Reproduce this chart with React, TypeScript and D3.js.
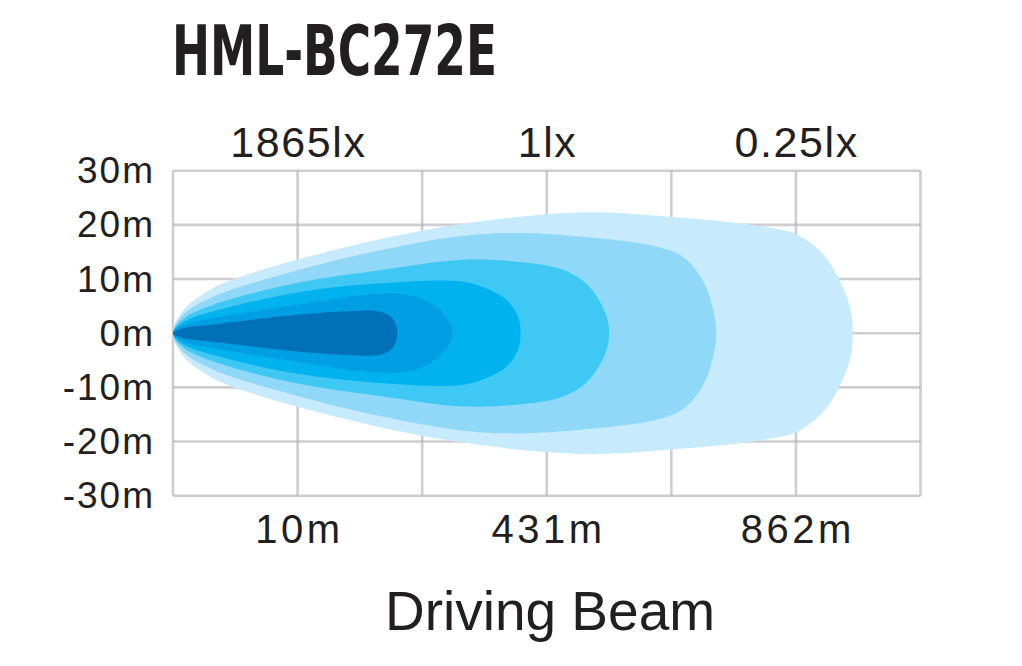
import { curveCatmullRomClosed, line, range, scaleLinear } from "d3";

// distance axis is drawn in grid steps (0..6); labels sit on steps 1, 3, 5
const gridSteps = range(0, 7);
const distanceTicks = [1, 3, 5];
const distanceLabels = ["10m", "431m", "862m"];
const luxLabels = ["1865lx", "1lx", "0.25lx"];
const widthTicks = [30, 20, 10, 0, -10, -20, -30];

// upper half of each isolux contour: [grid step, metres]; lower half is mirrored
const contour1: [number, number][] = [
  [0, 0], [0.08, 4.2], [0.32, 8.3], [0.62, 11.0], [1.0, 13.6], [1.65, 17.3], [2.3, 20.1],
  [3.02, 22.0], [3.47, 22.3], [4.09, 21.3], [4.55, 20.3], [4.81, 19.4], [5.0, 18.3],
  [5.21, 14.8], [5.35, 9.8], [5.44, 4.3], [5.455, 0],
];
const contour2: [number, number][] = [
  [0, 0], [0.08, 3.4], [0.32, 6.7], [1.0, 11.6], [1.66, 15.3], [2.3, 17.9], [2.76, 18.5],
  [3.29, 17.8], [3.88, 16.0], [4.09, 14.1], [4.25, 9.8], [4.33, 4.9], [4.36, 0],
];
const contour3: [number, number][] = [
  [0, 0], [0.08, 2.6], [0.32, 5.2], [1.0, 9.3], [1.66, 11.6], [2.3, 13.5], [2.76, 13.2],
  [3.13, 11.7], [3.34, 8.6], [3.48, 3.1], [3.5, 0],
];
const contour4: [number, number][] = [
  [0, 0], [0.08, 2.0], [0.32, 4.0], [1.0, 7.5], [1.66, 9.2], [2.3, 9.6], [2.49, 8.5],
  [2.68, 6.1], [2.77, 3.0], [2.79, 0],
];
const contour5: [number, number][] = [
  [0, 0], [0.08, 1.5], [0.32, 2.8], [1.0, 5.3], [1.5, 7.0], [1.8, 7.3], [1.98, 6.5],
  [2.14, 4.3], [2.22, 2.0], [2.245, 0],
];
const contour6: [number, number][] = [
  [0, 0], [0.08, 0.9], [0.32, 1.6], [1.0, 3.4], [1.45, 4.1], [1.66, 4.0], [1.75, 3.0],
  [1.79, 1.5], [1.8, 0],
];
const contours = [contour1, contour2, contour3, contour4, contour5, contour6];
const contourColors = ["#c7eafc", "#8fd8f7", "#40c8f4", "#00b3ef", "#009fe3", "#0071b9"];

const ink = "#231f20";

export default function App() {
  const width = 1022;
  const height = 666;
  const x = scaleLinear().domain([0, 6]).range([173, 920.5]);
  const y = scaleLinear().domain([-30, 30]).range([495.7, 170.7]);

  const outline = line<[number, number]>()
    .x((d) => x(d[0]))
    .y((d) => y(d[1]))
    .curve(curveCatmullRomClosed.alpha(0.5));

  const closedShape = (upper: [number, number][]) => {
    const lower = upper
      .slice(1, -1)
      .reverse()
      .map(([u, m]) => [u, -m] as [number, number]);
    return outline([...upper, ...lower]) ?? "";
  };

  return (
    <div style={{ position: "absolute", left: 0, top: 0 }}>
      <svg width={width} height={height} viewBox={`0 0 ${width} ${height}`} style={{ display: "block", background: "#fff" }}>
        <text
          x={172}
          y={75}
          fontFamily="'DejaVu Sans Condensed', 'DejaVu Sans', sans-serif"
          fontWeight="bold"
          fontSize={70}
          textLength={325}
          lengthAdjust="spacingAndGlyphs"
          fill={ink}
        >
          HML-BC272E
        </text>

        <g stroke="#b4b4b4" strokeOpacity={0.65} strokeWidth={2.6}>
          {widthTicks.map((t) => (
            <line key={`h${t}`} x1={x(0)} x2={x(6)} y1={y(t)} y2={y(t)} />
          ))}
          {gridSteps.map((s) => (
            <line key={`v${s}`} x1={x(s)} x2={x(s)} y1={y(30)} y2={y(-30)} />
          ))}
        </g>

        {contours.map((c, i) => (
          <path key={i} d={closedShape(c)} fill={contourColors[i]} />
        ))}

        <g fontFamily="'Liberation Sans', Arial, sans-serif" fill={ink}>
          {widthTicks.map((t) => (
            <text key={t} x={155} y={y(t) + 12.5} fontSize={37} letterSpacing={2} textAnchor="end">
              {`${t}m`}
            </text>
          ))}
          {distanceTicks.map((s, i) => (
            <text key={`l${s}`} x={x(s) + 0.8} y={157} fontSize={43} letterSpacing={1.6} textAnchor="middle">
              {luxLabels[i]}
            </text>
          ))}
          {distanceTicks.map((s, i) => (
            <text key={`d${s}`} x={x(s) + 1.8} y={543} fontSize={40} letterSpacing={3.5} textAnchor="middle">
              {distanceLabels[i]}
            </text>
          ))}
          <text x={550} y={630} fontSize={55} textAnchor="middle">
            Driving Beam
          </text>
        </g>
      </svg>
    </div>
  );
}
